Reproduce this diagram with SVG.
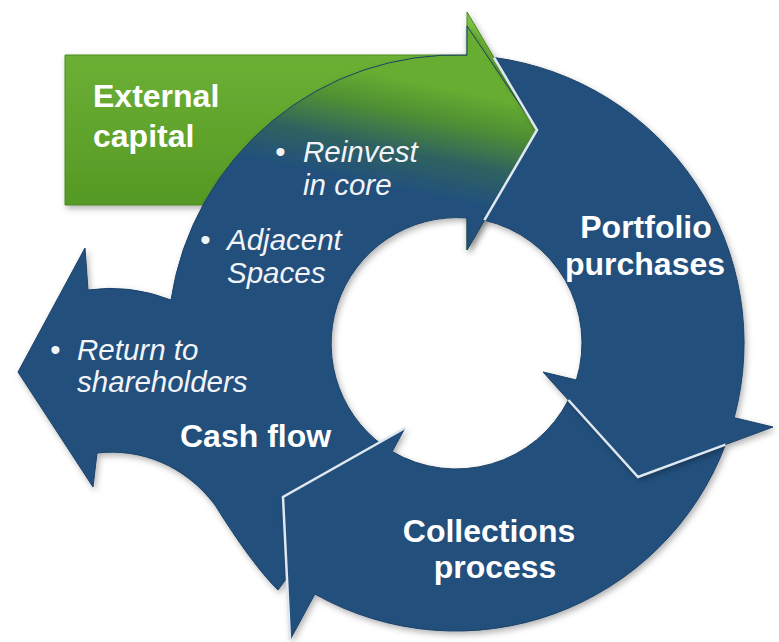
<svg xmlns="http://www.w3.org/2000/svg" width="779" height="642" viewBox="0 0 779 642">
  <defs>
    <style>
      .lbl { font-family: "Liberation Sans", Arial, sans-serif; font-weight: bold; font-size: 32px; fill: #ffffff; }
      .itl { font-family: "Liberation Sans", Arial, sans-serif; font-style: italic; font-size: 29.5px; fill: #f2f4f8; }
      .blue { fill: #22507c; stroke: #1b4268; stroke-width: 1; }
      .seam { fill: none; stroke: #dfe8f0; stroke-width: 2.5; stroke-linejoin: miter; }
    </style>
    <linearGradient id="gGreen" x1="0" y1="0" x2="0" y2="1">
      <stop offset="0" stop-color="#86c84d"/>
      <stop offset="0.12" stop-color="#6fb236"/>
      <stop offset="1" stop-color="#4e9220"/>
    </linearGradient>
    <linearGradient id="gTop" gradientUnits="userSpaceOnUse" x1="416" y1="82" x2="394" y2="188">
      <stop offset="0" stop-color="#66ad30"/>
      <stop offset="0.3" stop-color="#4f8f34"/>
      <stop offset="0.65" stop-color="#2f6260"/>
      <stop offset="1" stop-color="#22507c"/>
    </linearGradient>
    <filter id="shadow" x="-10%" y="-10%" width="120%" height="120%">
      <feDropShadow dx="2" dy="3" stdDeviation="3" flood-color="#000000" flood-opacity="0.3"/>
    </filter>
  </defs>

  <rect width="779" height="642" fill="#ffffff"/>

  <g id="external-capital" filter="url(#shadow)">
    <path d="M65,55 L467,55 L467,12 L537,130 L467,250 L467,205 L65,205 Z" fill="url(#gGreen)" stroke="#4a8a1e" stroke-width="1"/>
  </g>

  <g id="cash-flow" filter="url(#shadow)">
    <path d="M467,218 L467,250 L537,130 L467,26 L467,55.2 A288,288 0 0 0 171,300 Q130,284 88,290 L85,248 L18,372 L93,487 L97,453 C140,448 185,465 215,505 C240,545 260,572 278,590 L300,560 L392.2,451.6 A126,126 0 0 1 467,218 Z" fill="url(#gTop)" stroke="#1b4268" stroke-width="1"/>
  </g>

  <g id="collections" filter="url(#shadow)">
    <path class="blue" d="M568.4,400 L638,477 L725.5,444.6 A288,288 0 0 1 314.9,594.1 L290,640 L283,497 L405,428 L392.2,451.6 A126,126 0 0 0 568.4,400 Z"/>
  </g>

  <g id="portfolio" filter="url(#shadow)">
    <path class="blue" d="M494,57.5 A288,288 0 0 1 734.2,417.7 L773,427 L638,477 L543,372 L576.4,380 A126,126 0 0 0 484.4,220.2 L537,130 Z"/>
  </g>

  <g id="seams">
    <polyline class="seam" points="494,57.5 537,130 484.4,220.2"/>
    <polyline class="seam" points="568.4,400 638,477 725.5,444.6"/>
    <polyline class="seam" points="290,640 283,497 405,428" stroke-width="2"/>
  </g>

  <g id="texts">
    <text class="lbl" x="93" y="107">External</text>
    <text class="lbl" x="93" y="147">capital</text>

    <text class="itl"><tspan x="275" y="162">•</tspan><tspan x="303" y="162">Reinvest</tspan></text>
    <text class="itl" x="303" y="195">in core</text>

    <text class="itl"><tspan x="200" y="250">•</tspan><tspan x="227" y="250">Adjacent</tspan></text>
    <text class="itl" x="227" y="283">Spaces</text>

    <text class="itl"><tspan x="50" y="360">•</tspan><tspan x="77" y="360">Return to</tspan></text>
    <text class="itl" x="77" y="392">shareholders</text>

    <text class="lbl" x="180" y="447">Cash flow</text>

    <text class="lbl" x="646" y="238" text-anchor="middle">Portfolio</text>
    <text class="lbl" x="645" y="275" text-anchor="middle">purchases</text>

    <text class="lbl" x="489" y="542" text-anchor="middle">Collections</text>
    <text class="lbl" x="495" y="578" text-anchor="middle">process</text>
  </g>
</svg>
